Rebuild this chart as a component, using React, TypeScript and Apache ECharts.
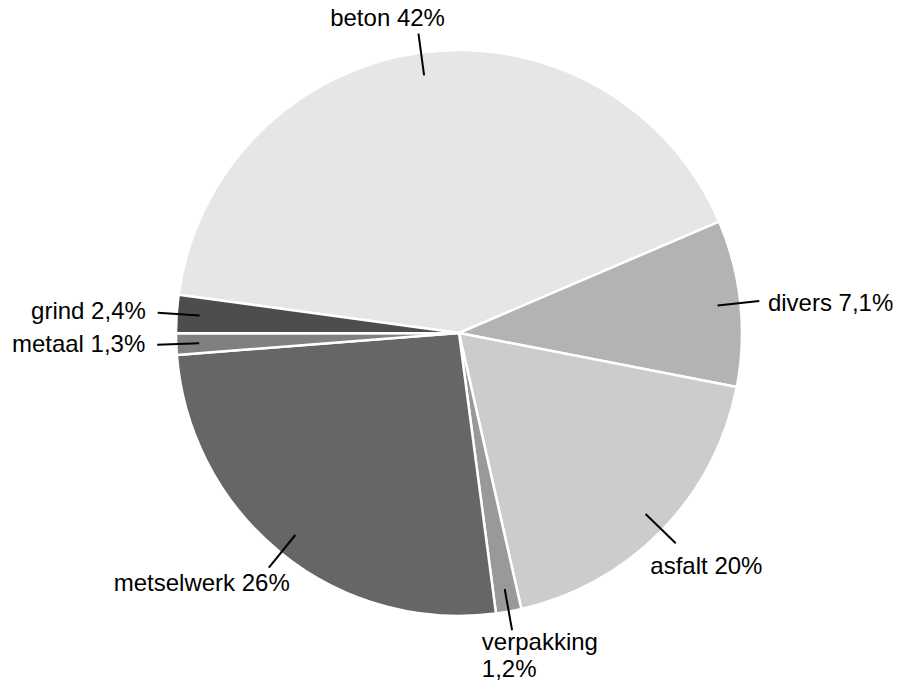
import React, { useEffect, useRef } from 'react';
import * as echarts from 'echarts';

const categories = ['beton', 'divers', 'asfalt', 'verpakking', 'metselwerk', 'metaal', 'grind'];
const shares = [41.4, 9.5, 18.4, 1.45, 25.85, 1.22, 2.17];
const percentLabels = ['42%', '7,1%', '20%', '1,2%', '26%', '1,3%', '2,4%'];
const sliceColors = ['#e6e6e6', '#b3b3b3', '#cccccc', '#999999', '#666666', '#808080', '#4d4d4d'];

// label text placement tweaks (px)
const labelNudges: Record<string, { dx?: number; dy?: number }> = {
  beton: { dx: -22, dy: 6 },
  divers: { dy: 4 },
  asfalt: { dx: -16, dy: 7 },
  verpakking: { dx: 16, dy: -11 },
  metselwerk: { dx: -6, dy: -3 },
  metaal: { dx: -3, dy: -2 },
  grind: { dx: -3, dy: -1 },
};

const CX = 459;
const CY = 333;
const R = 283;
const LINE_IN = 23;
const LINE_OUT = 19;
const GAP = 9;

export default function App() {
  const ref = useRef<HTMLDivElement>(null);
  useEffect(() => {
    const chart = echarts.init(ref.current!, null, { renderer: 'svg' });
    const sliceData = categories.map((name, i) => ({
      name,
      value: shares[i],
      itemStyle: { color: sliceColors[i] },
    }));
    const labelData = categories.map((name, i) => ({
      name,
      value: shares[i],
    }));
    const common = {
      type: 'pie',
      center: [CX, CY],
      startAngle: 172.24,
      clockwise: true,
      avoidLabelOverlap: false,
      silent: true,
    };
    chart.setOption({
      animation: false,
      backgroundColor: '#ffffff',
      series: [
        {
          ...common,
          z: 2,
          radius: [0, R],
          itemStyle: { borderColor: '#ffffff', borderWidth: 2.5 },
          label: { show: false },
          labelLine: { show: false },
          data: sliceData,
        },
        {
          ...common,
          z: 5,
          radius: [0, R - LINE_IN],
          itemStyle: { color: 'rgba(0,0,0,0)', borderWidth: 0, opacity: 1 },
          label: {
            show: true,
            position: 'outside',
            color: '#000000',
            fontSize: 24,
            lineHeight: 27,
            fontFamily: '"Liberation Sans", Arial, Helvetica, sans-serif',
            formatter: (p: any) =>
              p.name + (p.name === 'verpakking' ? '\n' : ' ') + percentLabels[p.dataIndex],
          },
          labelLine: {
            show: true,
            length: LINE_IN + LINE_OUT,
            length2: 0,
            smooth: false,
            lineStyle: { color: '#000000', width: 2 },
          },
          labelLayout: (params: any) => {
            const pts = params.labelLinePoints;
            const rect = params.labelRect;
            if (!pts || !rect) return {};
            const nudge = labelNudges[categories[params.dataIndex]] || {};
            const p0 = pts[0];
            const ang = Math.atan2(p0[1] - CY, p0[0] - CX);
            const dx = Math.cos(ang);
            const dy = Math.sin(ang);
            const ox = CX + dx * (R + LINE_OUT + GAP);
            const oy = CY + dy * (R + LINE_OUT + GAP);
            const w = rect.width;
            const h = rect.height;
            const cx = ox + (dx * w) / 2 + (nudge.dx || 0);
            const cy = oy + (dy * h) / 2 + (nudge.dy || 0);
            return {
              dx: cx - w / 2 - rect.x,
              dy: cy - h / 2 - rect.y,
            };
          },
          data: labelData,
        },
      ],
    });
    return () => chart.dispose();
  }, []);
  return (
    <div
      ref={ref}
      style={{ position: 'fixed', left: 0, top: 0, width: 908, height: 682 }}
    />
  );
}
